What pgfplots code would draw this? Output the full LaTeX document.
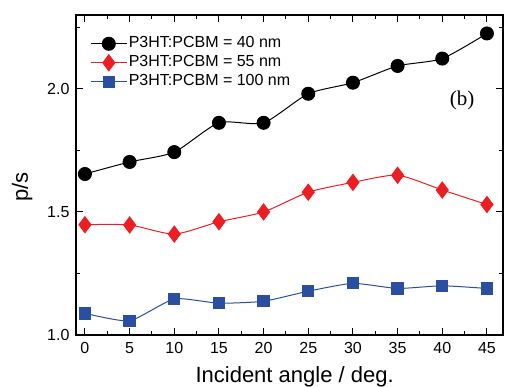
\documentclass[border=0pt]{standalone}
\usepackage{pgfplots}
\pgfplotsset{compat=1.18}
\usepackage{fontspec}
\setmainfont{Liberation Sans}
\newfontfamily\seriffont{Liberation Serif}
\definecolor{cred}{RGB}{236,30,36}
\definecolor{cblue}{RGB}{42,78,160}
\begin{document}
\begin{tikzpicture}
\begin{axis}[
  scale only axis, width=427pt, height=320pt,
  xmin=-1, xmax=46.8, ymin=1.0, ymax=2.3,
  xtick={0,5,...,45}, minor xtick={2.5,7.5,...,47.5},
  ytick={1.0,1.5,2.0}, minor ytick={1.25,1.75,2.25},
  tick align=inside, major tick length=7pt, minor tick length=4pt,
  axis line style={line width=1.3pt}, every tick/.style={line width=1.1pt, black},
  /pgf/number format/assume math mode=true,
  yticklabel style={/pgf/number format/fixed, /pgf/number format/fixed zerofill, /pgf/number format/precision=1, font=\fontsize{16}{19}\selectfont, xshift=-3pt},
  xticklabel style={font=\fontsize{16}{19}\selectfont, yshift=-4pt},
  xlabel={Incident angle / deg.}, ylabel={p/s},
  every axis x label/.style={at={(axis description cs:0.512,-0.130)}, anchor=center, font=\fontsize{22}{26}\selectfont},
  every axis y label/.style={at={(axis description cs:-0.126,0.4625)}, rotate=90, anchor=center, font=\fontsize{22}{26}\selectfont},
  legend style={at={(axis description cs:0.026,0.945)}, anchor=north west, draw=none, fill=none,
    font=\fontsize{16}{19}\selectfont, row sep=1pt,
    nodes={inner sep=1.5pt, text height=11.5pt, text depth=3.5pt}},
  legend cell align=left,
  legend image code/.code={\draw[mark repeat=2,mark phase=2] plot coordinates {(0pt,0pt) (18pt,0pt) (36pt,0pt)};},
]
\addplot[black, line width=1pt, smooth, tension=0.4, mark=*, mark size=6.5pt, mark options={solid, fill=black}] coordinates {
(0,1.654) (5,1.703) (10,1.743) (15,1.862) (20,1.862) (25,1.980) (30,2.025) (35,2.093) (40,2.123) (45,2.225)};
\addlegendentry{P3HT:PCBM = 40 nm}
\addplot[cred, line width=1pt, smooth, tension=0.4, mark=diamond*, mark size=8pt, mark options={solid, fill=cred}] coordinates {
(0,1.448) (5,1.447) (10,1.410) (15,1.460) (20,1.500) (25,1.580) (30,1.620) (35,1.649) (40,1.589) (45,1.530)};
\addlegendentry{P3HT:PCBM = 55 nm}
\addplot[cblue, line width=1pt, smooth, tension=0.3, mark=square*, mark size=5.7pt, mark options={solid, fill=cblue}] coordinates {
(0,1.088) (5,1.057) (10,1.147) (15,1.129) (20,1.137) (25,1.178) (30,1.210) (35,1.189) (40,1.200) (45,1.189)};
\addlegendentry{P3HT:PCBM = 100 nm}
\node[font=\seriffont\fontsize{21}{24}\selectfont] at (axis description cs:0.904,0.734) {(b)};
\end{axis}
\pgfresetboundingbox
\path ([xshift=-76pt,yshift=-52pt]current axis.south west) rectangle ([xshift=2pt,yshift=15pt]current axis.north east);
\end{tikzpicture}
\end{document}
